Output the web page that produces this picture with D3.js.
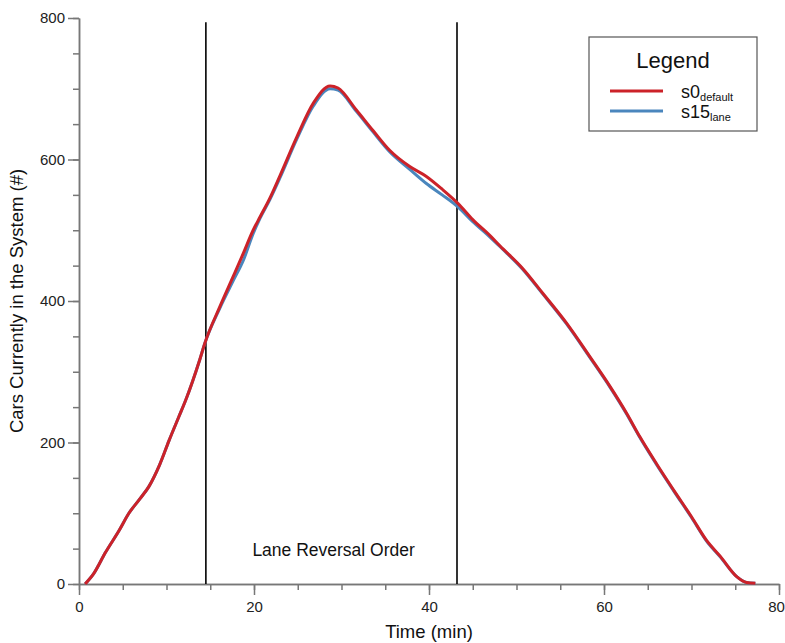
<!DOCTYPE html>
<html>
<head>
<meta charset="utf-8">
<script src="https://cdn.jsdelivr.net/npm/d3@7"></script>
<style>
  body { margin: 0; background: #fff; }
  text { font-family: Arial, "Liberation Sans", sans-serif; }
</style>
</head>
<body>
<div id="chart"></div>
<script>
// time (min) sampled off the curves
let times = [0.7, 1.7, 3, 4.6, 5.7, 7, 8, 9.2, 10.3, 11.4, 12.2, 13.8, 14.4, 16.1, 17.6, 18.8, 19.9, 20.7, 21.8,
  23, 24.9, 26.8, 28.7, 29.6, 31.7, 33.6, 35.5, 37.8, 39.7, 41.5, 43.3, 45, 47, 48.1, 50.7, 53, 55.7, 58.4,
  60.7, 62.6, 64.1, 66, 68, 70, 71.7, 73.3, 75.2, 76.3, 77.3]

let s0Default = [0, 15, 44, 76, 100, 121, 138, 168, 203, 236, 260, 317, 341, 392, 434, 468, 500, 519, 545,
  578, 632, 680, 704, 701, 670, 641, 613, 590, 576, 558, 538, 515, 492, 478, 446, 411, 369, 321,
  279, 241, 208, 170, 132, 95, 62, 39, 10, 2, 1]

let s15Lane = [0, 15, 44, 76, 100, 121, 138, 168, 203, 236, 260, 317, 341, 390, 428, 458, 495, 517, 543,
  575, 629, 676, 700, 698, 668, 639, 611, 586, 566, 550, 533, 512, 490, 477, 445, 410, 368, 320,
  278, 240, 207, 169, 131, 94, 61, 38, 10, 2, 1]

let reversalTimes = [14.5, 43.2]
let xTicks = [0, 20, 40, 60, 80]
let yTicks = [0, 200, 400, 600, 800]

let series = [
  { name: "s15", sub: "lane", values: s15Lane, color: "#4a86bd" },
  { name: "s0", sub: "default", values: s0Default, color: "#cc2229" }
]

let margin = {top: 18, right: 6, bottom: 59, left: 79},
    width = 785 - margin.left - margin.right,
    height = 643 - margin.top - margin.bottom;

let x = d3.scaleLinear().domain([0, 80]).range([0, width]);
let y = d3.scaleLinear().domain([0, 800]).range([height, 0]);

let svg = d3.select('#chart').append('svg')
    .attr("width", 785)
    .attr("height", 643)
  .append("g")
    .attr("transform", "translate(" + margin.left + "," + margin.top + ")");

// minor ticks
svg.append("g")
    .attr("class", "axis")
    .attr("transform", "translate(0," + height + ")")
    .call(d3.axisBottom(x).tickValues(d3.range(0, 81, 5)).tickSize(6).tickSizeOuter(0).tickFormat(""));
svg.append("g")
    .attr("class", "axis")
    .call(d3.axisLeft(y).tickValues(d3.range(0, 801, 50)).tickSize(6).tickSizeOuter(0).tickFormat(""));

// major ticks
let xAxis = svg.append("g")
    .attr("class", "axis")
    .attr("transform", "translate(0," + height + ")")
    .call(d3.axisBottom(x).tickValues(xTicks).tickSize(11).tickSizeOuter(0).tickPadding(6));
svg.append("g")
    .attr("class", "axis")
    .call(d3.axisLeft(y).tickValues(yTicks).tickSize(11).tickSizeOuter(0).tickPadding(3));

// last label sits on the page edge, nudge it inside
xAxis.selectAll(".tick text").filter(d => d == 80).attr("dx", -3);

svg.selectAll(".axis path, .axis line").attr("stroke", "#777").attr("stroke-width", 1.5);
svg.selectAll(".axis text").attr("font-size", 15).attr("fill", "#222")
    .attr("font-family", "Arial, 'Liberation Sans', sans-serif");

// reversal markers
svg.selectAll(".rev")
    .data(reversalTimes)
  .enter().append("line")
    .attr("x1", d => x(d)).attr("x2", d => x(d))
    .attr("y1", y(0)).attr("y2", y(794))
    .attr("stroke", "#000").attr("stroke-width", 1.6);

svg.append("text")
    .attr("x", x(29.1)).attr("y", y(40))
    .attr("text-anchor", "middle")
    .attr("font-size", 17.5).attr("fill", "#111")
    .text("Lane Reversal Order");

let valueline = d3.line()
    .x((d, i) => x(times[i]))
    .y(d => y(d))
    .curve(d3.curveMonotoneX);

series.forEach(s => {
  svg.append("path")
      .datum(s.values)
      .attr("fill", "none")
      .attr("stroke", s.color)
      .attr("stroke-width", 3)
      .attr("stroke-linejoin", "round")
      .attr("d", valueline);
});

// axis titles
svg.append("text")
    .attr("x", width / 2).attr("y", height + 54)
    .attr("text-anchor", "middle")
    .attr("font-size", 18.5).attr("fill", "#111")
    .text("Time (min)");

svg.append("text")
    .attr("transform", "translate(" + (-56) + "," + (height / 2) + ") rotate(-90)")
    .attr("text-anchor", "middle")
    .attr("font-size", 18.5).attr("fill", "#111")
    .text("Cars Currently in the System (#)");

// legend
let legend = svg.append("g").attr("transform", "translate(510,19)");
legend.append("rect")
    .attr("width", 168).attr("height", 94)
    .attr("fill", "#fff").attr("stroke", "#555").attr("stroke-width", 1.2);
legend.append("text")
    .attr("x", 84).attr("y", 31)
    .attr("text-anchor", "middle")
    .attr("font-size", 22).attr("fill", "#111")
    .text("Legend");

let legendOrder = [series[1], series[0]];
legendOrder.forEach((s, i) => {
  let ly = 54 + i * 20;
  legend.append("line")
      .attr("x1", 21).attr("x2", 74)
      .attr("y1", ly).attr("y2", ly)
      .attr("stroke", s.color).attr("stroke-width", 3);
  let t = legend.append("text")
      .attr("x", 92).attr("y", ly + 7)
      .attr("font-size", 18).attr("fill", "#111");
  t.append("tspan").text(s.name);
  t.append("tspan").attr("font-size", 11).attr("dy", 3).text(s.sub);
});
</script>
</body>
</html>
